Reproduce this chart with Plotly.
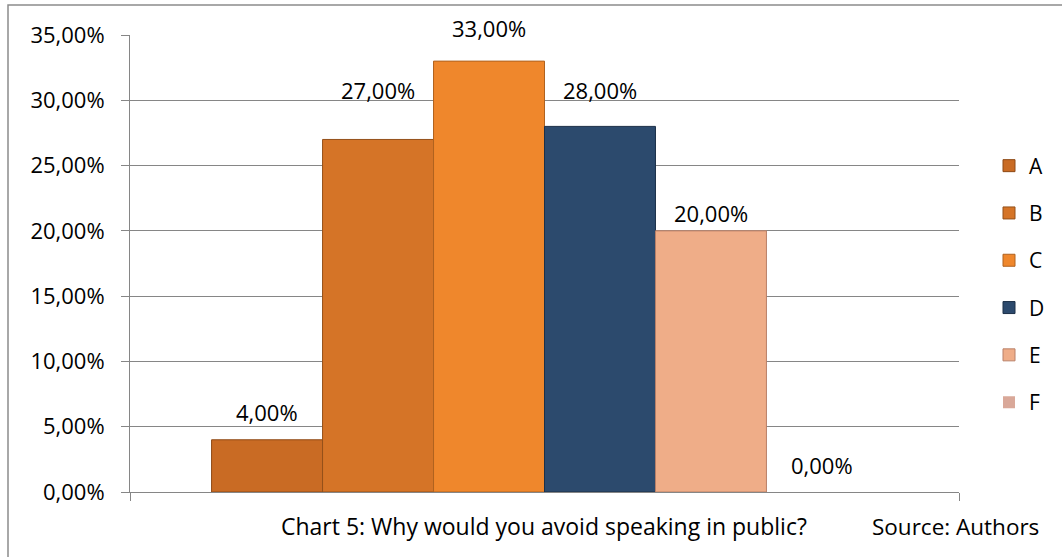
import plotly.graph_objects as go

# Answer options and the share of respondents for each
series_names = ["A", "B", "C", "D", "E", "F"]
shares = [4.0, 27.0, 33.0, 28.0, 20.0, 0.0]
y_ticks = [0, 5, 10, 15, 20, 25, 30, 35]

# Styling per series
fill_colors = ["#C96B24", "#D57427", "#EF872C", "#2C4A6D", "#EFAD88", "#D9A899"]
edge_colors = ["#8E4A16", "#94501A", "#B0621F", "#1C3048", "#B98068", "#B08070"]
edge_widths = [1, 1, 1, 1, 1, 0]
# vertical offset (px) of each value label above its bar top
label_lift = [28, 49, 33, 36, 18, 27]

FONT = "Open Sans"
W, H = 1062, 557
L, R, T, B = 130, 103, 35, 65
plot_w = W - L - R
plot_h = H - T - B

fig = go.Figure()

for i, (name, v) in enumerate(zip(series_names, shares)):
    fig.add_trace(go.Bar(
        x=[i], y=[v], width=1.0, name=name,
        legendgroup=name,
        marker=dict(color=fill_colors[i],
                    line=dict(color=edge_colors[i], width=edge_widths[i])),
        hoverinfo="skip",
    ))
    fig.add_annotation(
        x=i, y=v, xref="x", yref="y",
        text=f"{v:.2f}".replace(".", ",") + "%",
        showarrow=False, yshift=label_lift[i], yanchor="middle",
        font=dict(family=FONT, size=22, color="#000000"),
    )

# gap on each side of the bar block (Excel gap width 150%)
side = 0.735
fig.update_xaxes(
    range=[-0.5 - side, len(shares) - 0.5 + side],
    tickvals=[-0.5 - side, len(shares) - 0.5 + side],
    ticktext=["", ""],
    ticks="outside", ticklen=8, tickcolor="#868686", tickwidth=1,
    showgrid=False, zeroline=False,
    showline=True, linecolor="#868686", linewidth=1,
)
fig.update_yaxes(
    range=[0, 35],
    tickvals=y_ticks,
    ticktext=[f"{t:.2f}".replace(".", ",") + "%" for t in y_ticks],
    ticks="outside", ticklen=8, tickcolor="#868686", tickwidth=1,
    ticklabelstandoff=12,
    showgrid=True, gridcolor="#868686", gridwidth=1,
    zeroline=False,
    showline=True, linecolor="#868686", linewidth=1,
    tickfont=dict(family=FONT, size=22, color="#000000"),
)

# caption below the axis
fig.add_annotation(
    xref="paper", yref="paper",
    x=(544 - L) / plot_w, y=-(526 - (T + plot_h)) / plot_h,
    text="Chart 5: Why would you avoid speaking in public?",
    showarrow=False, xanchor="center", yanchor="middle",
    font=dict(family=FONT, size=23, color="#000000"),
)
fig.add_annotation(
    xref="paper", yref="paper",
    x=(1041 - L) / plot_w, y=-(526 - (T + plot_h)) / plot_h,
    text="Source: Authors",
    showarrow=False, xanchor="right", yanchor="middle",
    font=dict(family=FONT, size=22.5, color="#000000"),
)

# chart frame
fig.add_shape(
    type="rect", xref="paper", yref="paper",
    x0=(8 - L) / plot_w, x1=(1075 - L) / plot_w,
    y0=-(570 - (T + plot_h)) / plot_h, y1=1 + (T - 5) / plot_h,
    line=dict(color="#8C8C8C", width=1.5), fillcolor="rgba(0,0,0,0)",
    layer="below",
)

fig.update_layout(
    width=W, height=H,
    margin=dict(l=L, r=R, t=T, b=B, autoexpand=False),
    paper_bgcolor="#FFFFFF", plot_bgcolor="#FFFFFF",
    barmode="overlay",
    showlegend=True,
    legend=dict(
        x=(989 - L) / plot_w, xanchor="left",
        y=1 - (284 - T) / plot_h, yanchor="middle",
        font=dict(family=FONT, size=21, color="#000000"),
        tracegroupgap=17,
        itemwidth=30,
        bgcolor="rgba(0,0,0,0)",
    ),
    font=dict(family=FONT),
)

fig.write_html("out.html")
